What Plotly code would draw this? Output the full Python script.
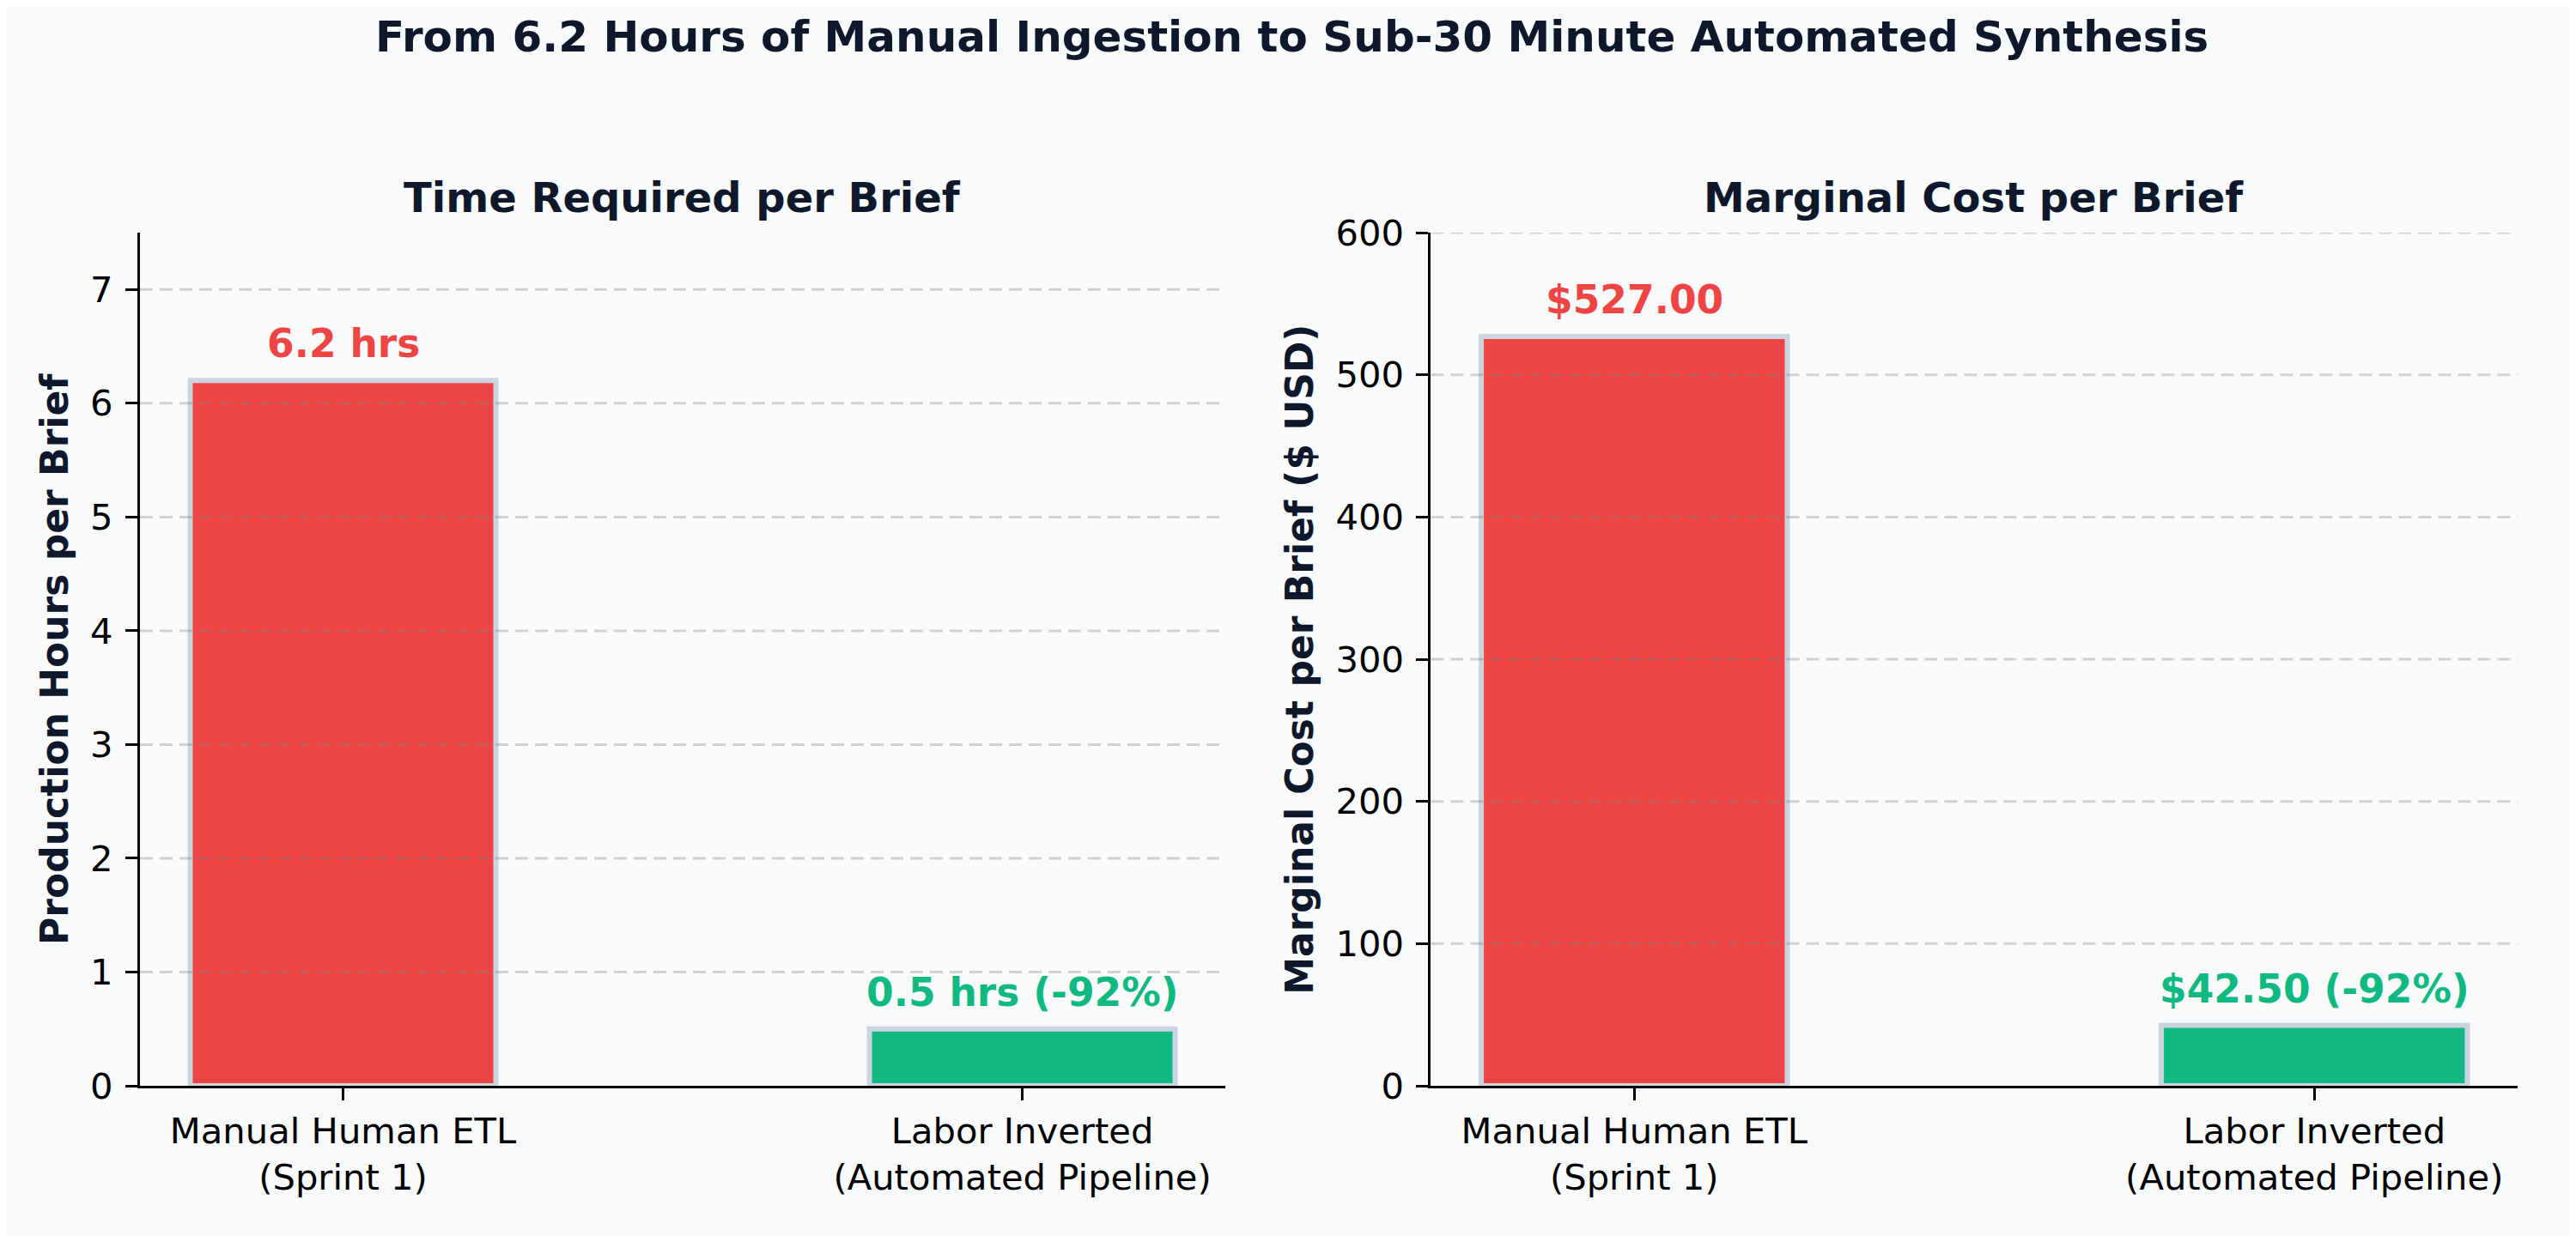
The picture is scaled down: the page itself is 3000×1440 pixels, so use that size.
import plotly.graph_objects as go
from plotly.subplots import make_subplots

# Data
categories = ["Manual Human ETL<br>(Sprint 1)", "Labor Inverted<br>(Automated Pipeline)"]
hours = [6.2, 0.5]
costs = [527.00, 42.50]
bar_colors = ["#ef4444", "#10b981"]
hour_ticks = [0, 1, 2, 3, 4, 5, 6, 7]
cost_ticks = [0, 100, 200, 300, 400, 500, 600]

suptitle = "From 6.2 Hours of Manual Ingestion to Sub-30 Minute Automated Synthesis"
panel_titles = ["Time Required per Brief", "Marginal Cost per Brief"]
y_titles = ["Production Hours per Brief", "Marginal Cost per Brief ($ USD)"]

# Percent change labels
pct_hours = round((hours[1] / hours[0] - 1) * 100)
pct_cost = round((costs[1] / costs[0] - 1) * 100)
hour_labels = [f"{hours[0]} hrs", f"{hours[1]} hrs ({pct_hours}%)"]
cost_labels = [f"${costs[0]:,.2f}", f"${costs[1]:,.2f} ({pct_cost}%)"]

FONT = "DejaVu Sans"
DARK = "#0f172a"
BG = "#f8fafc"
GRID = dict(color="rgba(128,128,128,0.35)", width=3, dash="15px,8px")

fig = make_subplots(rows=1, cols=2)

fig.add_trace(go.Bar(x=categories, y=hours, width=0.45,
                     marker=dict(color=bar_colors, line=dict(color="#cbd5e1", width=6)),
                     showlegend=False), row=1, col=1)
fig.add_trace(go.Bar(x=categories, y=costs, width=0.45,
                     marker=dict(color=bar_colors, line=dict(color="#cbd5e1", width=6)),
                     showlegend=False), row=1, col=2)

# value labels above bars
for cat, val, lab, col in zip(categories, hours, hour_labels, bar_colors):
    fig.add_annotation(x=cat, y=val, xref="x", yref="y", text=f"<b>{lab}</b>",
                       showarrow=False, yanchor="bottom", yshift=14,
                       font=dict(family=FONT, size=45.5, color=col))
for cat, val, lab, col in zip(categories, costs, cost_labels, bar_colors):
    fig.add_annotation(x=cat, y=val, xref="x2", yref="y2", text=f"<b>{lab}</b>",
                       showarrow=False, yanchor="bottom", yshift=14,
                       font=dict(family=FONT, size=45.5, color=col))

# dashed grid drawn over the bars
for t in hour_ticks[1:]:
    fig.add_hline(y=t, row=1, col=1, layer="above", line=GRID)
for t in cost_ticks[1:]:
    fig.add_hline(y=t, row=1, col=2, layer="above", line=GRID)

axis_common = dict(showline=True, linecolor="black", linewidth=3, ticks="outside",
                   ticklen=14, tickwidth=3, tickcolor="black", showgrid=False,
                   zeroline=False, automargin=False,
                   tickfont=dict(family=FONT, size=41.7, color="black"))

fig.update_xaxes(**axis_common, range=[-0.299, 1.299])
fig.update_yaxes(**axis_common, ticklabelstandoff=6)
fig.update_xaxes(domain=[0.0518, 0.4743], row=1, col=1)
fig.update_xaxes(domain=[0.5543, 0.9773], row=1, col=2)
fig.update_yaxes(domain=[0.1222, 0.8163], range=[0, 7.5], tickvals=hour_ticks, row=1, col=1)
fig.update_yaxes(domain=[0.1222, 0.8163], range=[0, 600], tickvals=cost_ticks, row=1, col=2)

# titles
fig.add_annotation(x=0.5, y=0.9758, xref="paper", yref="paper", text=f"<b>{suptitle}</b>",
                   showarrow=False, xanchor="center", yanchor="middle",
                   font=dict(family=FONT, size=50, color=DARK))
for xc, t in zip([0.2630, 0.7657], panel_titles):
    fig.add_annotation(x=xc, y=0.8452, xref="paper", yref="paper", text=f"<b>{t}</b>",
                       showarrow=False, xanchor="center", yanchor="middle",
                       font=dict(family=FONT, size=48, color=DARK))
for xc, t in zip([0.0187, 0.5033], y_titles):
    fig.add_annotation(x=xc, y=0.4693, xref="paper", yref="paper", text=f"<b>{t}</b>",
                       showarrow=False, textangle=-90, xanchor="center", yanchor="middle",
                       font=dict(family=FONT, size=44, color=DARK))

fig.update_layout(width=2992, height=1432, margin=dict(l=0, r=0, t=0, b=0),
                  paper_bgcolor=BG, plot_bgcolor=BG, showlegend=False,
                  font=dict(family=FONT))

fig.write_html("out.html")
